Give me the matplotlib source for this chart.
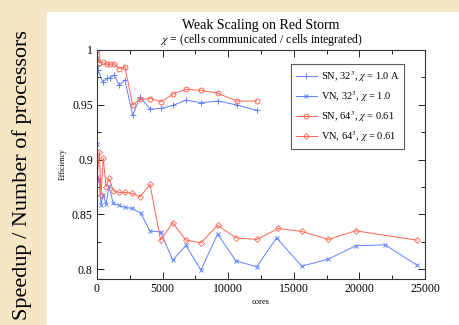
import matplotlib
matplotlib.use("Agg")
import matplotlib.pyplot as plt
from matplotlib.ticker import MultipleLocator

# SN, 32^3 (blue +)
sn32_cores = [0, 25, 76, 430, 790, 990, 1300, 1700, 2130, 2720, 3280, 4060,
              4900, 5810, 6780, 7920, 9240, 10650, 12170]
sn32_eff = [0.9915, 0.9854, 0.982, 0.971, 0.974, 0.9747, 0.9769, 0.968, 0.9726,
            0.9404, 0.9568, 0.946, 0.9467, 0.9495, 0.9543, 0.9519, 0.9534,
            0.9498, 0.945]

# VN, 32^3 (blue x)
vn32_cores = [0, 25, 180, 300, 480, 690, 910, 1240, 1700, 2130, 2690, 3350,
              4040, 4850, 5770, 6780, 7920, 9190, 10590, 12170, 13690, 15600,
              17630, 19710, 21950, 24360]
vn32_eff = [0.9142, 0.8843, 0.8813, 0.8584, 0.8676, 0.859, 0.8758, 0.86, 0.8582,
            0.8563, 0.8554, 0.8509, 0.8347, 0.834, 0.8082, 0.8216, 0.7991,
            0.832, 0.8076, 0.8021, 0.8286, 0.8027, 0.8091, 0.8213, 0.8222,
            0.8039]

# SN, 64^3 (red circles)
sn64_cores = [0, 8, 25, 180, 430, 740, 990, 1300, 1700, 2130, 2720, 3280, 4060,
              4900, 5810, 6780, 7920, 9240, 10650, 12170]
sn64_eff = [1.0, 0.9954, 0.9915, 0.9884, 0.9887, 0.987, 0.987, 0.9875, 0.983,
            0.9848, 0.9498, 0.955, 0.9556, 0.9528, 0.9598, 0.9641, 0.9632,
            0.9604, 0.9534, 0.9534]

# VN, 64^3 (red diamonds)
vn64_cores = [0, 180, 300, 480, 690, 910, 1240, 1700, 2130, 2690, 3280, 4040,
              4850, 5770, 6780, 7920, 9190, 10590, 12170, 13820, 15600, 17630,
              19710, 24360]
vn64_eff = [0.8819, 0.9071, 0.8676, 0.9011, 0.8752, 0.8828, 0.8716, 0.87, 0.87,
            0.8691, 0.866, 0.8773, 0.8265, 0.8423, 0.8265, 0.824, 0.8399,
            0.8286, 0.8271, 0.8371, 0.8344, 0.8271, 0.835, 0.8265]

labels = [r"SN, 32$^3$, $\chi$ = 1.0 A", r"VN, 32$^3$, $\chi$ = 1.0",
          r"SN, 64$^3$, $\chi$ = 0.61", r"VN, 64$^3$, $\chi$ = 0.61"]

plt.rcParams["font.family"] = ["Liberation Serif", "DejaVu Serif"]
plt.rcParams["mathtext.fontset"] = "stix"

blue = "#5f80ff"
red = "#ff6450"

fig = plt.figure(figsize=(4.59, 3.25), dpi=100)
fig.patch.set_facecolor("#f5e6c6")
# white slide panel behind the plot
fig.patches.append(plt.Rectangle((47 / 459, 0), 1, 1 - 12 / 325,
                                 transform=fig.transFigure, color="white",
                                 zorder=-10))

ax = fig.add_axes([97 / 459, 1 - 279 / 325, 328 / 459, 229 / 325])
ax.set_zorder(1)
ax.plot(sn32_cores, sn32_eff, color=blue, lw=0.7, marker="+", ms=5, mew=0.7,
        label=labels[0])
ax.plot(vn32_cores, vn32_eff, color=blue, lw=0.7, marker="x", ms=3.5, mew=0.7,
        label=labels[1])
ax.plot(sn64_cores, sn64_eff, color=red, lw=0.7, marker="o", ms=3.5, mew=0.7,
        mfc="none", label=labels[2])
ax.plot(vn64_cores, vn64_eff, color=red, lw=0.7, marker="D", ms=3, mew=0.6,
        mfc="none", label=labels[3])

ax.set_xlim(0, 25000)
ax.set_ylim(0.791, 1.0)
ax.xaxis.set_major_locator(MultipleLocator(5000))
ax.xaxis.set_minor_locator(MultipleLocator(2500))
ax.yaxis.set_minor_locator(MultipleLocator(0.025))
ax.set_yticks([0.8, 0.85, 0.9, 0.95, 1.0])
ax.set_yticklabels(["0.8", "0.85", "0.9", "0.95", "1"])
ax.tick_params(which="both", direction="in", top=True, right=True,
               labelsize=8.5, pad=3)
ax.tick_params(which="major", length=5, width=0.6)
ax.tick_params(which="minor", length=3, width=0.6)
for s in ax.spines.values():
    s.set_linewidth(0.8)
    s.set_color("#333333")

ax.set_xlabel("cores", fontsize=6, labelpad=2)
ax.set_ylabel("Efficiency", fontsize=5.5, labelpad=4)

fig.text(261 / 459, 1 - 26 / 325, "Weak Scaling on Red Storm", ha="center",
         va="center", fontsize=10)
fig.text(261 / 459, 1 - 40 / 325,
         r"$\chi$ = (cells communicated / cells integrated)", ha="center",
         va="center", fontsize=8.5)

leg = ax.legend(loc="upper left", bbox_to_anchor=(194 / 328, 1 - 14 / 229),
                fontsize=7.5, frameon=True, fancybox=False, borderpad=0.45,
                handlelength=2.0, labelspacing=0.5, handletextpad=0.4,
                borderaxespad=0)
leg.get_frame().set_edgecolor("#333333")
leg.get_frame().set_linewidth(0.8)

fig.text(22 / 459, 1 - 175 / 325, "Speedup / Number of processors",
         rotation=90, ha="center", va="center", fontsize=16)

fig.savefig("out.png", dpi=100, facecolor=fig.get_facecolor())
